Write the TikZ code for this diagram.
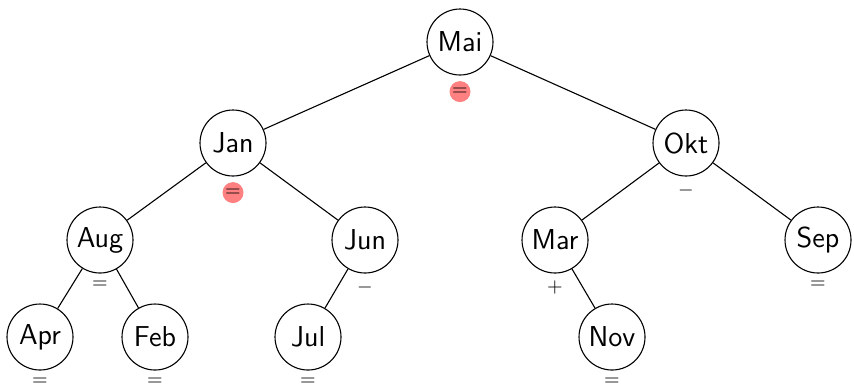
\documentclass[tikz,border=0pt]{standalone}
\usetikzlibrary{positioning}
\renewcommand{\familydefault}{\sfdefault}

\begin{document}
\begin{tikzpicture}[x=0.5pt,y=-0.5pt,line width=0.55pt,
      key/.style={draw,circle,minimum size=33pt,inner sep=0pt,font=\Large},
      bal/.style={font=\normalsize,inner sep=3.3pt},
      hot/.style={circle,fill=red!50,inner sep=0.7pt,font=\normalsize,yshift=-2.5pt}]

    \useasboundingbox (0,0) rectangle (854,387);

    % level 0 and 1
    \node[key,label={[hot]below:{=}}] (mai) at (460,42) {Mai};
    \node[key,label={[hot]below:{=}}] (jan) at (233,143) {Jan};
    \node[key,label={[bal]below:$-$}] (okt) at (686,143) {Okt};

    % level 2
    \node[key,label={[bal]below:{=}}] (aug) at (100,240) {Aug};
    \node[key,label={[bal]below:$-$}] (jun) at (365,240) {Jun};
    \node[key,label={[bal]below:$+$}] (mar) at (555,240) {Mar};
    \node[key,label={[bal]below:{=}}] (sep) at (818,240) {Sep};

    % leaves
    \node[key,label={[bal]below:{=}}] (apr) at (40,337) {Apr};
    \node[key,label={[bal]below:{=}}] (feb) at (155,337) {Feb};
    \node[key,label={[bal]below:{=}}] (jul) at (308,337) {Jul};
    \node[key,label={[bal]below:{=}}] (nov) at (612,337) {Nov};

    \draw (mai) -- (jan);
    \draw (mai) -- (okt);
    \draw (jan) -- (aug);
    \draw (jan) -- (jun);
    \draw (okt) -- (mar);
    \draw (okt) -- (sep);
    \draw (aug) -- (apr);
    \draw (aug) -- (feb);
    \draw (jun) -- (jul);
    \draw (mar) -- (nov);
  \end{tikzpicture}
\end{document}
